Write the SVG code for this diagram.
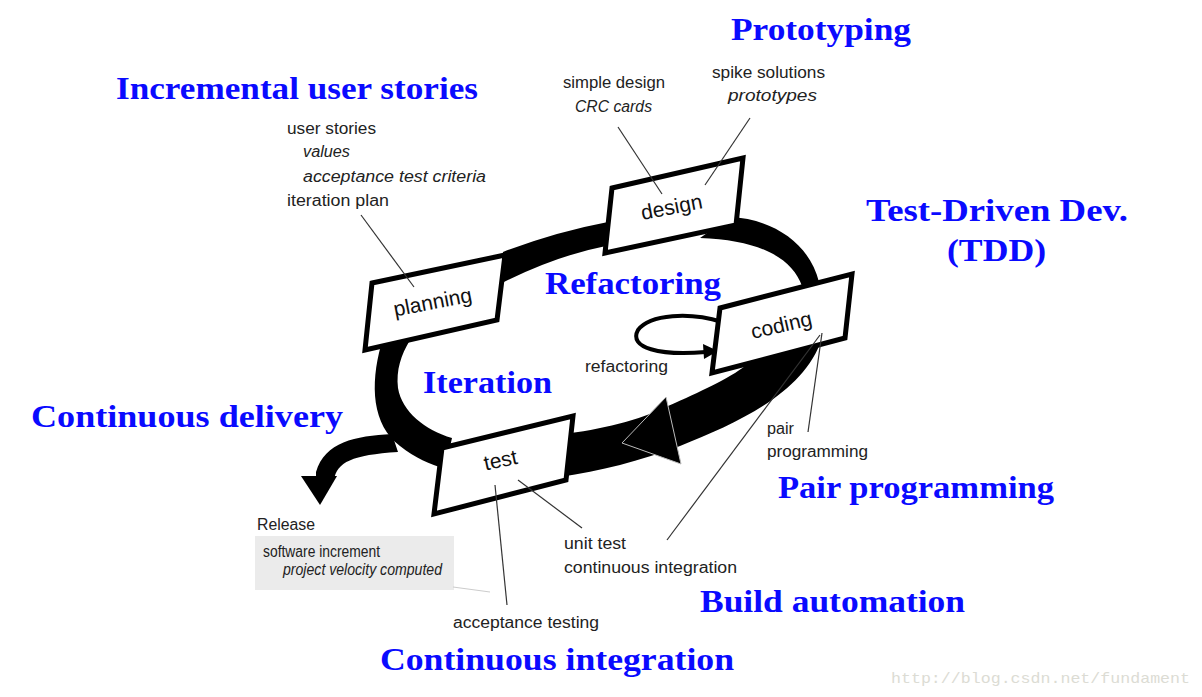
<svg xmlns="http://www.w3.org/2000/svg" width="1202" height="697" viewBox="0 0 1202 697">
<style>
.title{font-family:"Liberation Serif","Times New Roman",serif;font-weight:bold;font-size:32px;fill:#0a0aff}
.note{font-family:"Liberation Sans",Arial,sans-serif;font-size:16px;fill:#222}
.it{font-style:italic}
.lbl{font-family:"Liberation Sans",Arial,sans-serif;font-size:21px;fill:#111;text-anchor:middle}
.box{fill:#fff;stroke:#000;stroke-width:5;stroke-linejoin:miter}
.band{fill:#000}
.lead{stroke:#333;stroke-width:1.2;fill:none}
</style>
<rect width="1202" height="697" fill="#fff"/>
<g id="connectors">
<path class="band" d="M503,252 Q555,232 608,222 L606,246 Q555,256 500,284 Z"/>
<path class="band" d="M730,217 C775,219 810,245 819,282 L802,286 C792,258 760,240 700,238 Z"/>
<path class="band" d="M822,338 C805,392 740,422 680,446 C640,461 600,471 560,477 L562,434 C600,430 640,420 668,406 C700,392 730,378 745,366 Z"/>
<path class="band" d="M381,345 C370,385 372,425 400,446 C415,458 430,464 445,469 L452,438 C425,430 402,412 398,388 C396,370 401,355 410,340 Z"/>
<path class="band" d="M392,434 C355,436 325,442 316,472 L316,480 L334,480 C337,462 352,455 398,452 Z"/>
<path class="band" d="M301,476 L337,476 L320,505 Z"/>
<path d="M666,397 L622,443 L681,464 Z" fill="#000" stroke="#bbb" stroke-width="1"/>
<path d="M722,322 C690,312 650,314 638,330 C628,348 660,356 706,352" fill="none" stroke="#000" stroke-width="4"/>
<path d="M718,351 L703,344 L704,359 Z" fill="#000"/>
</g>
<g id="planning">
<polygon class="box" points="372,283 505,255 497,320 365,350"/>
<text class="lbl" x="434" y="309" transform="rotate(-11 434 309)">planning</text>
</g>
<g id="design">
<polygon class="box" points="612,188 743,158 736,225 605,253"/>
<text class="lbl" x="673" y="214" transform="rotate(-11 673 214)">design</text>
</g>
<g id="coding">
<polygon class="box" points="720,308 852,274 845,338 712,373"/>
<text class="lbl" x="783" y="332" transform="rotate(-13 783 332)">coding</text>
</g>
<g id="test">
<polygon class="box" points="442,448 573,416 566,480 434,514"/>
<text class="lbl" x="502" y="467" transform="rotate(-12 502 467)">test</text>
</g>
<g id="release">
<rect x="255" y="536" width="199" height="54" fill="#ebebeb"/>
<line x1="453" y1="587" x2="490" y2="592" stroke="#ccc" stroke-width="1"/>
<text class="note" x="257" y="530" textLength="58" lengthAdjust="spacingAndGlyphs">Release</text>
<text class="note" x="263" y="557" font-size="14" textLength="117" lengthAdjust="spacingAndGlyphs">software increment</text>
<text class="note it" x="283" y="575" font-size="14" textLength="159" lengthAdjust="spacingAndGlyphs">project velocity computed</text>
</g>
<g id="leaders">
<line class="lead" x1="361" y1="215" x2="414" y2="287"/>
<line class="lead" x1="618" y1="127" x2="662" y2="194"/>
<line class="lead" x1="750" y1="118" x2="705" y2="185"/>
<line class="lead" x1="822" y1="333" x2="808" y2="432"/>
<line class="lead" x1="820" y1="335" x2="667" y2="540"/>
<line class="lead" x1="518" y1="480" x2="582" y2="528"/>
<line class="lead" x1="495" y1="485" x2="507" y2="605"/>
</g>
<g id="notes">
<text class="note" x="287" y="134" textLength="89" lengthAdjust="spacingAndGlyphs">user stories</text>
<text class="note it" x="303" y="157" textLength="47" lengthAdjust="spacingAndGlyphs">values</text>
<text class="note it" x="303" y="182" textLength="183" lengthAdjust="spacingAndGlyphs">acceptance test criteria</text>
<text class="note" x="287" y="206" textLength="102" lengthAdjust="spacingAndGlyphs">iteration plan</text>
<text class="note" x="563" y="88" textLength="102" lengthAdjust="spacingAndGlyphs">simple design</text>
<text class="note it" x="575" y="112" textLength="77" lengthAdjust="spacingAndGlyphs">CRC cards</text>
<text class="note" x="712" y="78" textLength="113" lengthAdjust="spacingAndGlyphs">spike solutions</text>
<text class="note it" x="728" y="101" textLength="89" lengthAdjust="spacingAndGlyphs">prototypes</text>
<text class="note" x="585" y="372" textLength="83" lengthAdjust="spacingAndGlyphs">refactoring</text>
<text class="note" x="767" y="434" textLength="27" lengthAdjust="spacingAndGlyphs">pair</text>
<text class="note" x="767" y="457" textLength="101" lengthAdjust="spacingAndGlyphs">programming</text>
<text class="note" x="564" y="549" textLength="62" lengthAdjust="spacingAndGlyphs">unit test</text>
<text class="note" x="564" y="573" textLength="173" lengthAdjust="spacingAndGlyphs">continuous integration</text>
<text class="note" x="453" y="628" textLength="146" lengthAdjust="spacingAndGlyphs">acceptance testing</text>
</g>
<g id="titles">
<text class="title" x="731" y="40" textLength="180" lengthAdjust="spacingAndGlyphs">Prototyping</text>
<text class="title" x="116" y="99" textLength="362" lengthAdjust="spacingAndGlyphs">Incremental user stories</text>
<text class="title" x="866" y="221" textLength="262" lengthAdjust="spacingAndGlyphs">Test-Driven Dev.</text>
<text class="title" x="947" y="261" textLength="99" lengthAdjust="spacingAndGlyphs">(TDD)</text>
<text class="title" x="545" y="294" textLength="176" lengthAdjust="spacingAndGlyphs">Refactoring</text>
<text class="title" x="423" y="393" textLength="129" lengthAdjust="spacingAndGlyphs">Iteration</text>
<text class="title" x="31" y="427" textLength="312" lengthAdjust="spacingAndGlyphs">Continuous delivery</text>
<text class="title" x="778" y="498" textLength="276" lengthAdjust="spacingAndGlyphs">Pair programming</text>
<text class="title" x="700" y="612" textLength="265" lengthAdjust="spacingAndGlyphs">Build automation</text>
<text class="title" x="380" y="670" textLength="354" lengthAdjust="spacingAndGlyphs">Continuous integration</text>
</g>
<text x="891" y="683" font-family="'Liberation Mono',monospace" font-size="15" fill="#dcdcd4" textLength="299" lengthAdjust="spacingAndGlyphs">http://blog.csdn.net/fundament</text>
</svg>
